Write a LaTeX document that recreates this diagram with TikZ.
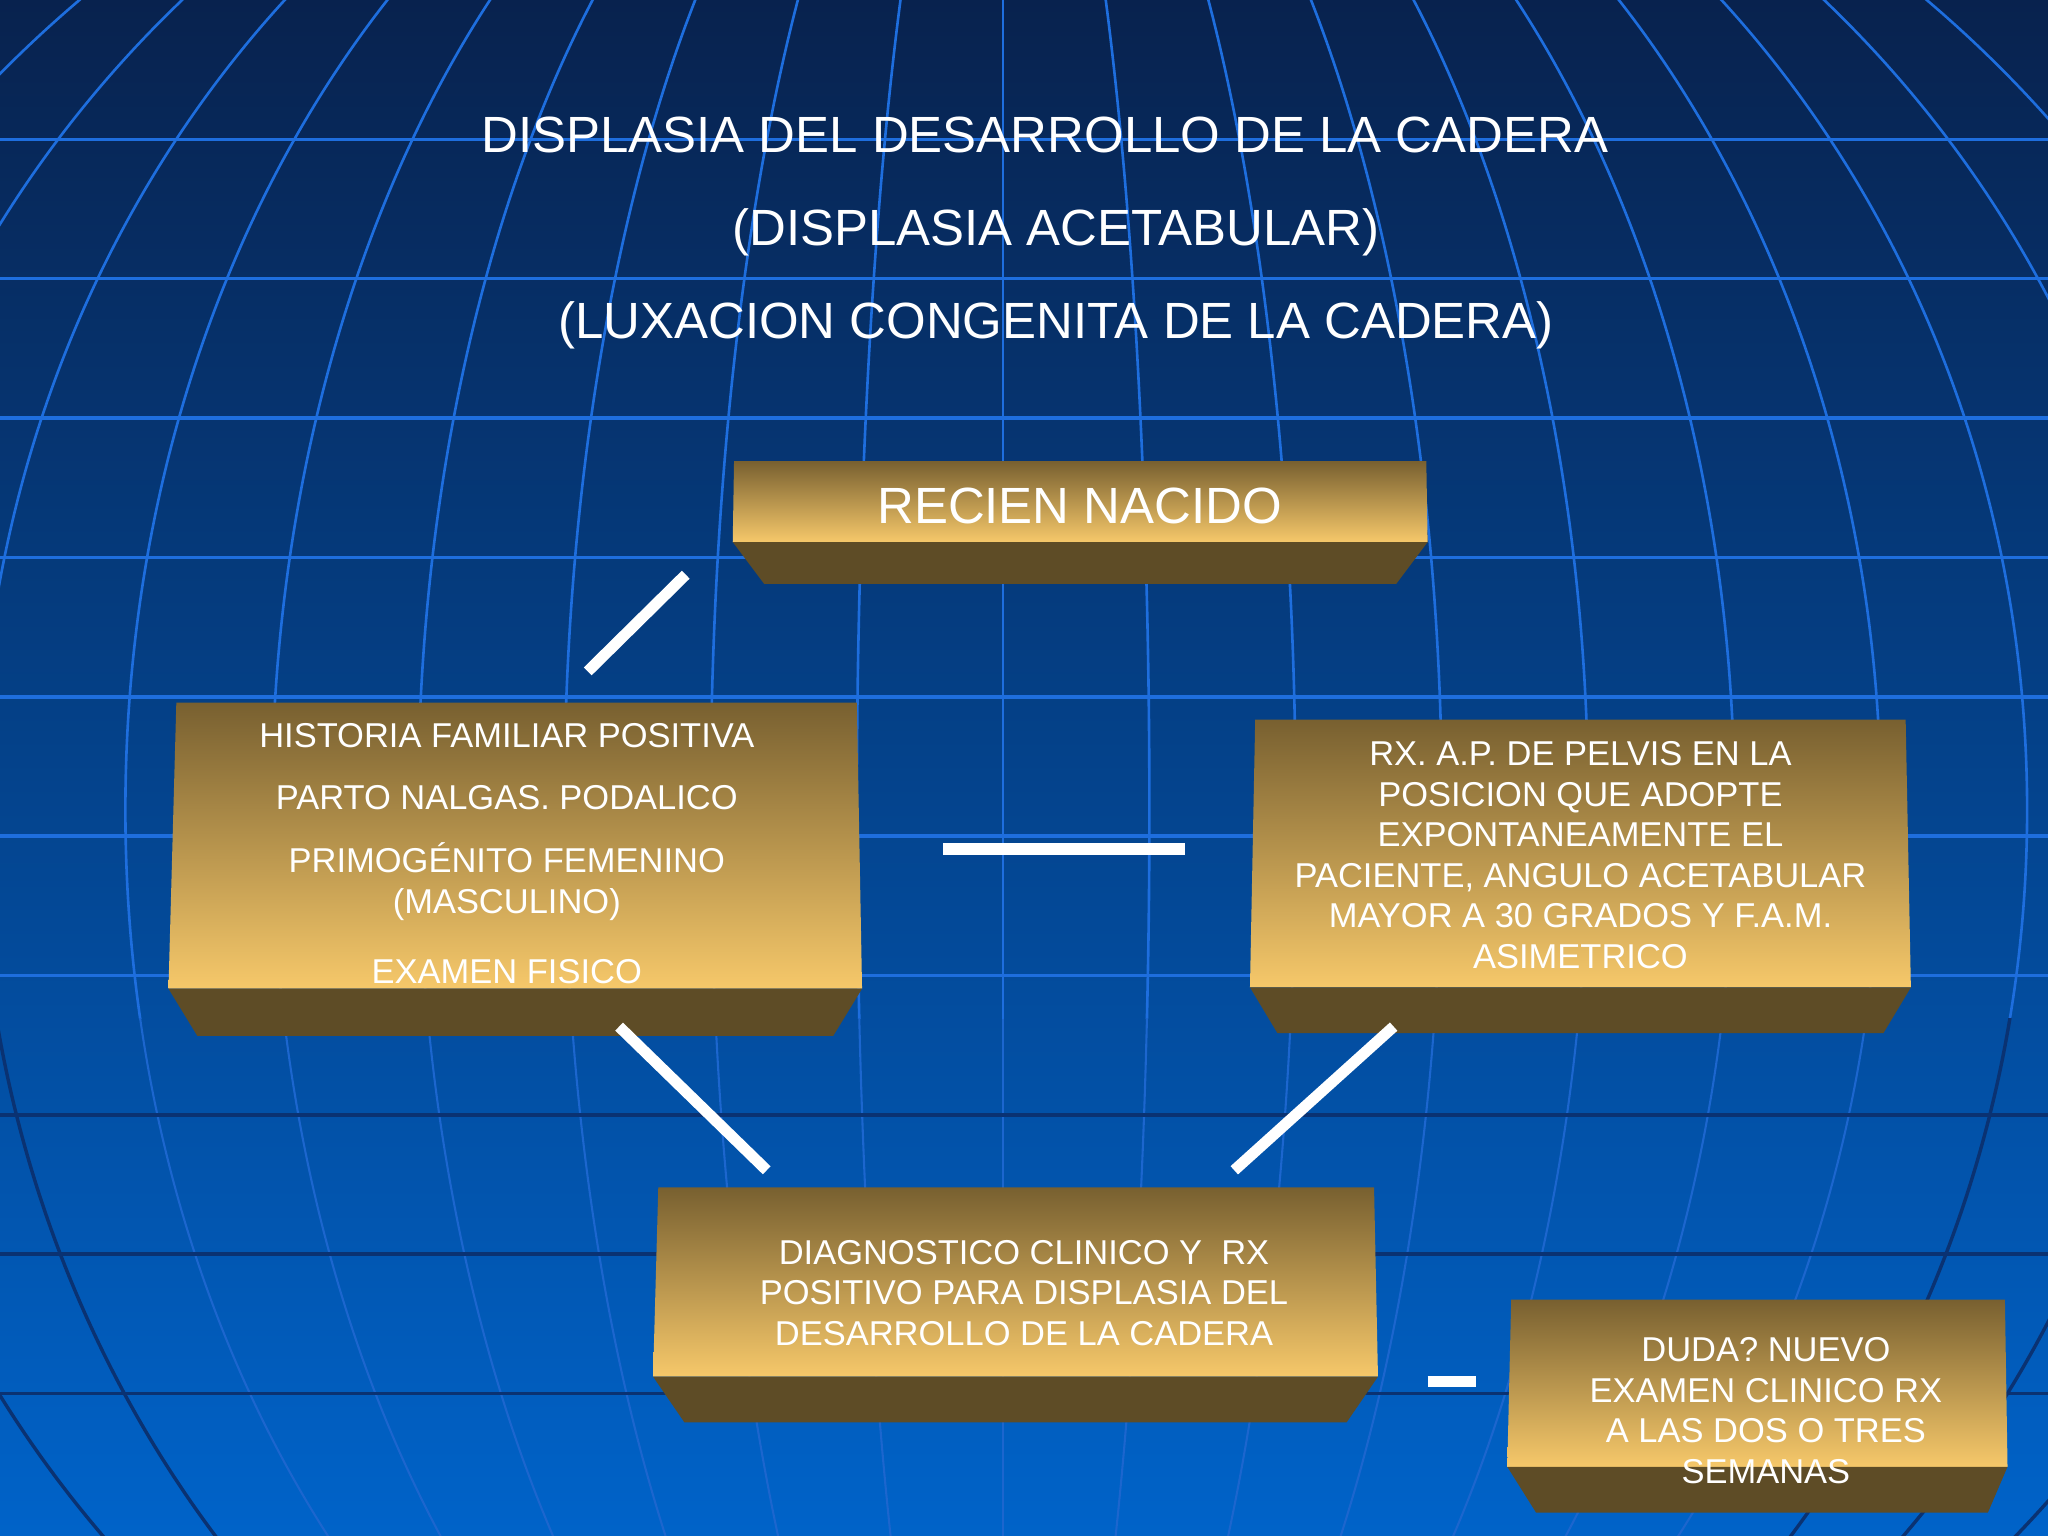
\documentclass[tikz,border=0pt]{standalone}
\usepackage{fontspec}
\setmainfont{Liberation Sans}
\definecolor{bgtop}{RGB}{8,34,78}
\definecolor{bgmid}{RGB}{3,66,145}
\definecolor{bgbot}{RGB}{0,99,201}
\definecolor{gridlight}{RGB}{30,110,222}
\definecolor{gridfaint}{RGB}{28,102,206}
\definecolor{griddark}{RGB}{10,50,114}
\definecolor{goldtop}{RGB}{120,96,48}
\definecolor{goldbot}{RGB}{246,200,106}
\definecolor{goldside}{RGB}{94,76,38}
\begin{document}
\begin{tikzpicture}[x=0.5pt,y=-0.5pt,
  titletext/.style={text=white,font=\fontsize{19.5}{23}\selectfont,inner sep=0pt},
  boxtext/.style={text=white,font=\fontsize{13.2}{15.5}\selectfont,align=center,inner sep=0pt},
  front/.style={top color=goldtop,bottom color=goldbot,draw=none},
  side/.style={fill=goldside,draw=none},
  link/.style={draw=white,line width=4.25pt,line cap=butt},
  mer/.style={draw=gridlight,line width=1pt},
  merfaint/.style={draw=gridfaint,line width=0.8pt},
  merdark/.style={draw=griddark,line width=1.3pt},
  hlight/.style={draw=gridlight,line width=1.3pt},
  hdark/.style={draw=griddark,line width=1.4pt}]
\useasboundingbox (0,0) rectangle (1568,1176);
% background globe
\begin{scope}
\clip (0,0) rectangle (1568,1176);
\shade[top color=bgtop,middle color=bgmid,bottom color=bgbot] (0,0) rectangle (1568,1176);
\begin{scope}
\clip (0,0) rectangle (1568,780);
\foreach \k in {1,...,9} \draw[mer] (768,620) ellipse [x radius={56pt*\k}, y radius=435pt];
\draw[mer] (768,0) -- (768,780);
\end{scope}
\begin{scope}
\clip (0,780) rectangle (1568,1176);
\foreach \k in {1,...,6} \draw[merfaint] (768,620) ellipse [x radius={56pt*\k}, y radius=435pt];
\foreach \k in {7,8,9} \draw[merdark] (768,620) ellipse [x radius={56pt*\k}, y radius=435pt];
\draw[merfaint] (768,780) -- (768,1176);
\end{scope}
\foreach \j in {1,...,7} \draw[hlight] (0,{106.7*\j}) -- (1568,{106.7*\j});
\foreach \j in {8,9,10} \draw[hdark] (0,{106.7*\j}) -- (1568,{106.7*\j});
\end{scope}
% title
\node[titletext,anchor=base] (t1) at (800,116.5) {DISPLASIA DEL DESARROLLO DE LA CADERA};
\node[titletext,anchor=base] (t2) at (808.5,188) {(DISPLASIA ACETABULAR)};
\node[titletext,anchor=base] (t3) at (808.5,259) {(LUXACION CONGENITA DE LA CADERA)};
% box: recien nacido
\shade[front] (562,353) -- (1092,353) -- (1093,415) -- (561,415) -- cycle;
\fill[side] (561,415) -- (1093,415) -- (1069,447) -- (585,447) -- cycle;
\node[titletext,anchor=base] (rn) at (826.6,401) {RECIEN NACIDO};
% box: historia
\shade[front] (135,538) -- (656,538) -- (660,757) -- (129,757) -- cycle;
\fill[side] (129,757) -- (660,757) -- (638,793) -- (151,793) -- cycle;
\node[boxtext] (hist) at (388,653.5) {HISTORIA FAMILIAR POSITIVA\\[8.5pt]
PARTO NALGAS. PODALICO\\[8.5pt]
PRIMOGÉNITO FEMENINO\\
(MASCULINO)\\[11.5pt]
EXAMEN FISICO};
% box: rx
\shade[front] (961,551) -- (1459,551) -- (1463,756) -- (957,756) -- cycle;
\fill[side] (957,756) -- (1463,756) -- (1442,791) -- (978,791) -- cycle;
\node[boxtext] (rx) at (1210,654.8) {RX. A.P. DE PELVIS EN LA\\
POSICION QUE ADOPTE\\
EXPONTANEAMENTE EL\\
PACIENTE, ANGULO ACETABULAR\\
MAYOR A 30 GRADOS Y F.A.M.\\
ASIMETRICO};
% box: diagnostico
\shade[front] (504,909) -- (1052,909) -- (1055,1054) -- (500,1054) -- cycle;
\fill[side] (500,1054) -- (1055,1054) -- (1031,1089) -- (524,1089) -- cycle;
\node[boxtext] (dx) at (784,990) {DIAGNOSTICO CLINICO Y~~RX\\
POSITIVO PARA DISPLASIA DEL\\
DESARROLLO DE LA CADERA};
% box: duda
\shade[front] (1157,995) -- (1535,995) -- (1537,1123) -- (1154,1123) -- cycle;
\fill[side] (1154,1123) -- (1537,1123) -- (1522,1158) -- (1176,1158) -- cycle;
\node[boxtext] (du) at (1352,1080) {DUDA? NUEVO\\
EXAMEN CLINICO RX\\
A LAS DOS O TRES\\
SEMANAS};
% connectors
\coordinate (c1a) at (450,514);  \coordinate (c1b) at (525,440);
\coordinate (c2a) at (722,650);  \coordinate (c2b) at (907,650);
\coordinate (c3a) at (474,786);  \coordinate (c3b) at (587,896);
\coordinate (c4a) at (1067,786); \coordinate (c4b) at (945,896);
\coordinate (c5a) at (1093,1057.5); \coordinate (c5b) at (1130,1057.5);
\draw[link] (c1a) -- (c1b);
\draw[link] (c2a) -- (c2b);
\draw[link] (c3a) -- (c3b);
\draw[link] (c4a) -- (c4b);
\draw[link] (c5a) -- (c5b);
\end{tikzpicture}
\end{document}
